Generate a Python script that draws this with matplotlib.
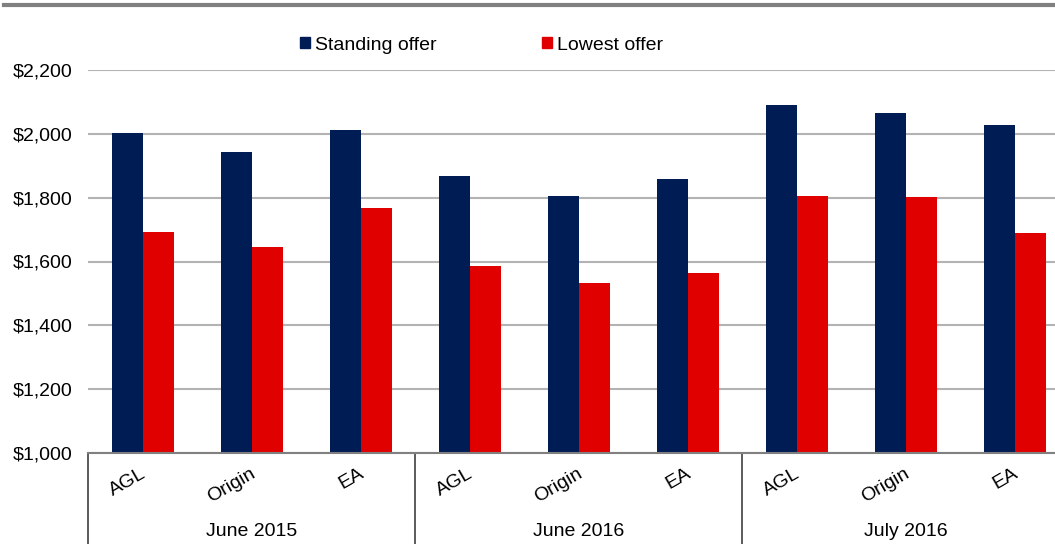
import matplotlib.pyplot as plt
from matplotlib.patches import Patch
from matplotlib.lines import Line2D
import numpy as np

plt.rcParams['font.family'] = ['Liberation Sans', 'DejaVu Sans']

retailers = ['AGL', 'Origin', 'EA'] * 3
periods = ['June 2015', 'June 2016', 'July 2016']
standing = [2003, 1943, 2012, 1868, 1805, 1858, 2090, 2065, 2028]
lowest = [1692, 1645, 1768, 1586, 1533, 1564, 1805, 1803, 1689]

navy = '#001c54'
red = '#e00000'

fig = plt.figure(figsize=(10.55, 5.44), dpi=100)
ax = fig.add_axes([88 / 1055, 91 / 544, 981 / 1055, 383 / 544])

x = np.arange(len(retailers))
w = 31 / 109
ax.bar(x - w / 2, standing, w, color=navy, zorder=3)
ax.bar(x + w / 2, lowest, w, color=red, zorder=3)

ax.set_xlim(-0.5, len(retailers) - 0.5)
ax.set_ylim(1000, 2200)
ax.set_yticks(range(1000, 2201, 200))
ax.set_yticklabels(['${:,}'.format(v) for v in range(1000, 2201, 200)])
ax.tick_params(axis='y', length=0, pad=11, labelsize=14)
ax.set_xticks([])
ax.yaxis.grid(True, color='#b3b3b3', linewidth=1.5, zorder=0)

for s in ['top', 'right', 'left']:
    ax.spines[s].set_visible(False)
ax.spines['bottom'].set_color('#808080')
ax.spines['bottom'].set_linewidth(1.5)
ax.spines['bottom'].set_zorder(4)

trans = ax.get_xaxis_transform()
h = 383
for i, name in enumerate(retailers):
    ax.text(i - 2 / 109, -12 / h, name, transform=trans, rotation=30,
            rotation_mode='anchor', ha='right', va='top', fontsize=14)

for g, per in enumerate(periods):
    ax.text(g * 3 + 1, -79 / h, per, transform=trans, ha='center',
            va='center', fontsize=14)

for b in [-0.5, 2.5, 5.5, 8.5]:
    ax.plot([b, b], [0, -95 / h], transform=trans, color='#404040',
            linewidth=1.2, clip_on=False)

# thick grey rule at the top
fig.add_artist(Line2D([4 / 1055, 1], [1 - 5 / 544, 1 - 5 / 544],
                      color='#808080', linewidth=3))

handles = [Patch(color=navy, label='Standing offer'),
           Patch(color=red, label='Lowest offer')]
fig.legend(handles=handles, loc='center left',
           bbox_to_anchor=(300 / 1055, 1 - 45 / 544), ncol=2,
           frameon=False, fontsize=14, handlelength=0.52, handleheight=0.52,
           handletextpad=0.26, columnspacing=5.4, borderpad=0,
           borderaxespad=0)

fig.savefig('out.png', dpi=100)
